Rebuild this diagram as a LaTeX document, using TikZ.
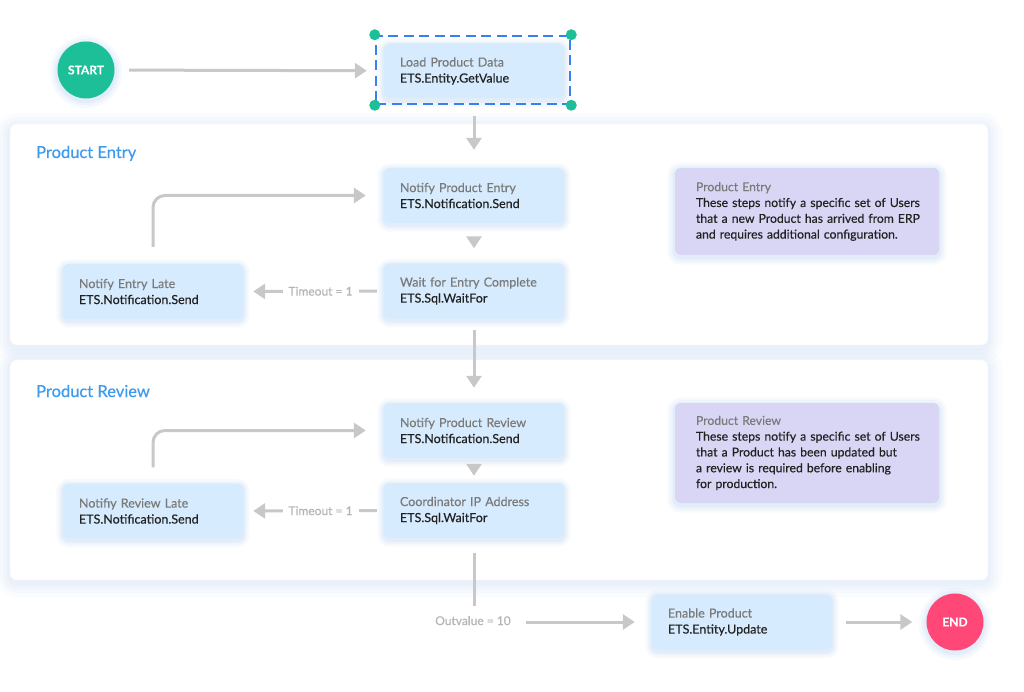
\documentclass[tikz,border=0pt]{standalone}
\usepackage{fontspec}
\setmainfont{Lato}[FakeBold=0.35]
\usetikzlibrary{arrows.meta}
\definecolor{boxblue}{HTML}{D6EBFD}
\definecolor{notepurple}{HTML}{D9D5F4}
\definecolor{arrowgray}{HTML}{C8C8C8}
\definecolor{labelgray}{HTML}{B5B5B5}
\definecolor{titleblue}{HTML}{3D9BEF}
\definecolor{selblue}{HTML}{3B7EF0}
\definecolor{startteal}{HTML}{1DBF98}
\definecolor{endpink}{HTML}{FF4778}
\definecolor{subgray}{HTML}{7A7A7A}
\definecolor{darktext}{HTML}{222222}
\definecolor{glow}{HTML}{B9D2F5}
\tikzset{
  softglow/.style={
    preaction={draw=glow, line width=#1*2.2, draw opacity=0.10, transform canvas={yshift=-2pt}},
    preaction={draw=glow, line width=#1*1.4, draw opacity=0.14, transform canvas={yshift=-2pt}},
    preaction={draw=glow, line width=#1*0.7, draw opacity=0.20, transform canvas={yshift=-2pt}}},
  panelglow/.style={
    preaction={draw=glow, line width=#1*2.4, draw opacity=0.06, transform canvas={yshift=-3pt}},
    preaction={draw=glow, line width=#1*1.7, draw opacity=0.07, transform canvas={yshift=-3pt}},
    preaction={draw=glow, line width=#1*1.1, draw opacity=0.08, transform canvas={yshift=-3pt}},
    preaction={draw=glow, line width=#1*0.5, draw opacity=0.10, transform canvas={yshift=-3pt}}},
  stepbox/.style={rounded corners=6pt, fill=boxblue, minimum width=180pt, minimum height=55pt,
    text width=148pt, inner xsep=16pt, inner ysep=0pt, align=left,
    font=\fontsize{12.5}{16}\selectfont, softglow=6pt},
  notebox/.style={rounded corners=6pt, fill=notepurple, minimum width=264pt,
    text width=222pt, inner xsep=21pt, inner ysep=0pt, align=left,
    font=\fontsize{12.2}{15.8}\selectfont, softglow=7pt},
  panel/.style={rounded corners=7pt, fill=white, draw=black!3, minimum width=978pt, panelglow=12pt},
  paneltitle/.style={anchor=base west, text=titleblue, font=\fontsize{16.5}{19}\selectfont, inner sep=0pt},
  terminal/.style={circle, minimum size=57pt, inner sep=0pt, text=white, font=\bfseries\fontsize{12}{13}\selectfont, softglow=7pt},
  arr/.style={draw=arrowgray, line width=3pt, -{Triangle[length=12pt,width=15pt]}},
  plainline/.style={draw=arrowgray, line width=3pt},
  edgelabel/.style={fill=white, text=labelgray, inner xsep=6pt, inner ysep=1pt, font=\fontsize{12}{14}\selectfont}
}
\begin{document}
\begin{tikzpicture}[x=1pt,y=-1pt]
\fill[white] (0,0) rectangle (1024,692);
\useasboundingbox (0,0) rectangle (1024,692);

% panels
\node[panel, minimum height=221pt] (p1) at (499,234.5) {};
\node[panel, minimum height=220pt] (p2) at (499,470) {};
\node[paneltitle] (t1) at (36,158) {Product Entry};
\node[paneltitle] (t2) at (36,397) {Product Review};

% terminals
\node[terminal, fill=startteal] (start) at (86,70) {START};
\node[terminal, fill=endpink] (end) at (955,622) {END};

% steps
\node[stepbox] (load) at (474,71) {\textcolor{subgray}{Load Product Data}\\\textcolor{darktext}{ETS.Entity.GetValue}};
\node[draw=selblue, line width=2.5pt, dash pattern=on 10pt off 5.5pt, minimum width=194pt, minimum height=68pt, inner sep=0pt] (sel) at (473,70) {};
\foreach \c in {north west, north east, south west, south east}
  \fill[startteal] (sel.\c) circle (5.5pt);

\node[stepbox] (npe) at (474,195.5) {\textcolor{subgray}{Notify Product Entry}\\\textcolor{darktext}{ETS.Notification.Send}};
\node[stepbox] (wait) at (474,291) {\textcolor{subgray}{Wait for Entry Complete}\\\textcolor{darktext}{ETS.Sql.WaitFor}};
\node[stepbox] (late) at (153,291.5) {\textcolor{subgray}{Notify Entry Late}\\\textcolor{darktext}{ETS.Notification.Send}};

\node[stepbox] (npr) at (474,430.5) {\textcolor{subgray}{Notify Product Review}\\\textcolor{darktext}{ETS.Notification.Send}};
\node[stepbox] (coord) at (474,510.5) {\textcolor{subgray}{Coordinator IP Address}\\\textcolor{darktext}{ETS.Sql.WaitFor}};
\node[stepbox] (rlate) at (153,511) {\textcolor{subgray}{Notifiy Review Late}\\\textcolor{darktext}{ETS.Notification.Send}};

\node[stepbox] (enable) at (742,622) {\textcolor{subgray}{Enable Product}\\\textcolor{darktext}{ETS.Entity.Update}};

% notes
\node[notebox, minimum height=87pt] (n1) at (807,211.5) {\mbox{\textcolor{subgray}{Product Entry}}\\
\mbox{\textcolor{darktext}{These steps notify a specific set of Users}}\\
\mbox{\textcolor{darktext}{that a new Product has arrived from ERP}}\\
\mbox{\textcolor{darktext}{and requires additional configuration.}}};
\node[notebox, minimum height=100pt] (n2) at (807,453) {\mbox{\textcolor{subgray}{Product Review}}\\
\mbox{\textcolor{darktext}{These steps notify a specific set of Users}}\\
\mbox{\textcolor{darktext}{that a Product has been updated but}}\\
\mbox{\textcolor{darktext}{a review is required before enabling}}\\
\mbox{\textcolor{darktext}{for production.}}};

% outvalue label
\node[text=labelgray, font=\fontsize{12}{14}\selectfont, inner sep=0pt, text height=9pt, text depth=3pt] (outv) at (473,622) {Outvalue = 10};

% connectors
\draw[arr, shorten <=14.5pt, shorten >=17pt] (start) -- (load);
\draw[arr, shorten <=17pt, shorten >=18pt] (load.south) -- (npe.north);
\draw[arr, shorten <=14pt, shorten >=15pt] (npe.south) -- (wait.north);
\draw[arr, shorten <=7pt, shorten >=10pt] (wait.west) -- node[edgelabel, pos=0.45] {Timeout = 1} (late.east);
\draw[arr, rounded corners=12pt, shorten <=17pt, shorten >=18pt] (late.north) |- (npe.west);
\draw[arr, shorten <=11pt, shorten >=15pt] (wait.south) -- (npr.north);

\draw[arr, shorten <=6pt, shorten >=7pt] (npr.south) -- (coord.north);
\draw[arr, shorten <=7pt, shorten >=10pt] (coord.west) -- node[edgelabel, pos=0.45] {Timeout = 1} (rlate.east);
\draw[arr, rounded corners=12pt, shorten <=16pt, shorten >=18pt] (rlate.north) |- (npr.west);

\draw[plainline, shorten <=15pt, shorten >=10pt] (coord.south) -- (outv.north -| coord.south);
\draw[arr, shorten <=15pt, shorten >=17pt] (outv.east) -- (enable.west);
\draw[arr, shorten <=14pt, shorten >=14pt] (enable.east) -- (end.west);
\end{tikzpicture}
\end{document}
